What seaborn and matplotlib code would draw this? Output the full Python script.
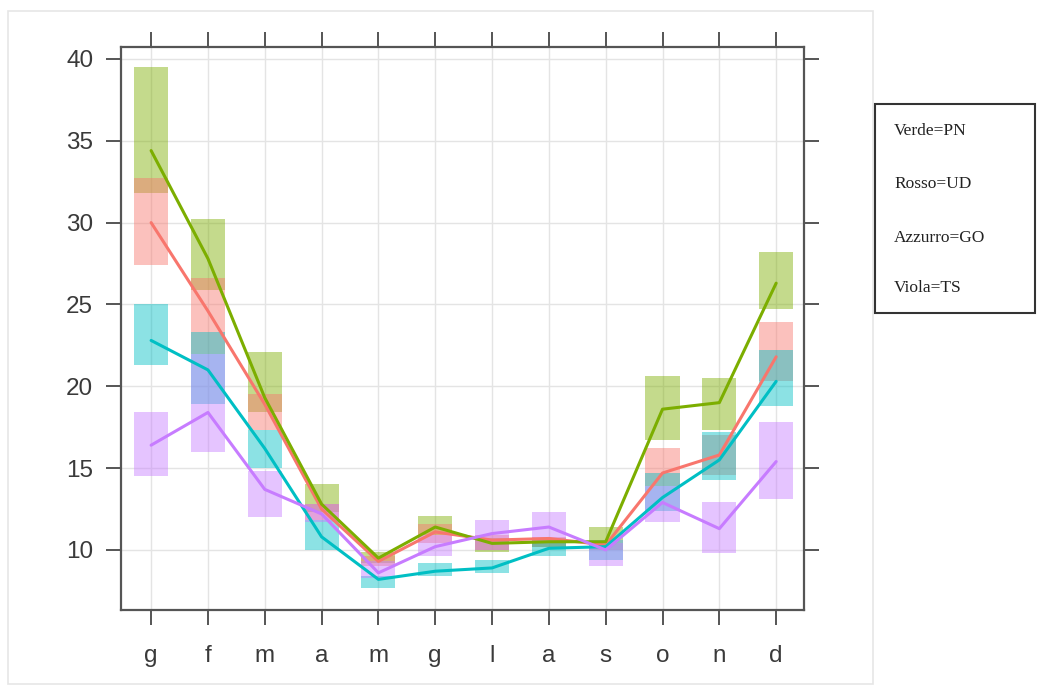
import numpy as np
import pandas as pd
import seaborn as sns
import matplotlib.pyplot as plt
from matplotlib.patches import Rectangle

MONTHS = ["g", "f", "m", "a", "m", "g", "l", "a", "s", "o", "n", "d"]

# monthly means per province
pn_mean = [34.4, 27.8, 19.3, 12.8, 9.5, 11.4, 10.4, 10.5, 10.5, 18.6, 19.0, 26.3]
ud_mean = [30.0, 24.6, 18.9, 12.5, 9.3, 11.1, 10.6, 10.7, 10.3, 14.7, 15.8, 21.8]
go_mean = [22.8, 21.0, 16.2, 10.8, 8.2, 8.7, 8.9, 10.1, 10.2, 13.2, 15.5, 20.3]
ts_mean = [16.4, 18.4, 13.7, 12.2, 8.6, 10.2, 11.0, 11.4, 10.0, 12.9, 11.3, 15.4]

# interval boxes (low, high)
pn_lo = [31.8, 25.9, 18.4, 12.3, 9.2, 10.9, 9.9, 10.2, 10.6, 16.7, 17.3, 24.7]
pn_hi = [39.5, 30.2, 22.1, 14.0, 9.9, 12.1, 10.7, 10.7, 11.4, 20.6, 20.5, 28.2]
ud_lo = [27.4, 22.0, 17.3, 11.8, 9.0, 10.4, 10.0, 10.2, 10.0, 13.9, 14.6, 20.3]
ud_hi = [32.7, 26.6, 19.5, 12.8, 9.6, 11.6, 10.9, 10.8, 10.6, 16.2, 17.0, 23.9]
go_lo = [21.3, 18.9, 15.0, 10.0, 7.7, 8.4, 8.6, 9.6, 9.4, 12.4, 14.3, 18.8]
go_hi = [25.0, 23.3, 17.3, 11.8, 8.4, 9.2, 9.4, 10.5, 10.6, 14.7, 17.2, 22.2]
ts_lo = [14.5, 16.0, 12.0, 11.7, 8.3, 9.6, 10.0, 10.4, 9.0, 11.7, 9.8, 13.1]
ts_hi = [18.4, 22.0, 14.8, 12.8, 9.3, 10.9, 11.8, 12.3, 10.4, 13.9, 12.9, 17.8]

COLORS = {"UD": "#F8766D", "PN": "#7CAE00", "GO": "#00BFC4", "TS": "#C77CFF"}

rows = []
for prov, mean in [("UD", ud_mean), ("PN", pn_mean), ("GO", go_mean), ("TS", ts_mean)]:
    for i, v in enumerate(mean):
        rows.append({"x": i, "val": v, "prov": prov})
df = pd.DataFrame(rows)

sns.set_style("white")
plt.rcParams["font.family"] = ["Liberation Sans", "DejaVu Sans"]

fig = plt.figure(figsize=(10.39, 6.88), dpi=100)
fig.patches.append(Rectangle((8 / 1039, 1 - 684 / 688), 865 / 1039, 673 / 688,
                             transform=fig.transFigure, fill=False,
                             edgecolor="#e6e6e6", linewidth=1.2))
ax = fig.add_axes([121 / 1039, 1 - 610 / 688, 683 / 1039, 563 / 688])

x = np.arange(len(MONTHS))
for prov, lo, hi in [("PN", pn_lo, pn_hi), ("UD", ud_lo, ud_hi),
                     ("GO", go_lo, go_hi), ("TS", ts_lo, ts_hi)]:
    lo = np.array(lo); hi = np.array(hi)
    ax.bar(x, hi - lo, bottom=lo, width=0.6, color=COLORS[prov],
           alpha=0.45, linewidth=0, zorder=2)

sns.lineplot(data=df, x="x", y="val", hue="prov", palette=COLORS,
             hue_order=["UD", "PN", "GO", "TS"], linewidth=2.2,
             legend=False, ax=ax, zorder=3)

ax.set_xlim(-0.53, 11.49)
ax.set_ylim(6.33, 40.73)
ax.set_xticks(x)
ax.set_xticklabels(MONTHS)
ax.set_yticks([10, 15, 20, 25, 30, 35, 40])
ax.set_xlabel("")
ax.set_ylabel("")
ax.grid(True, color="#e4e4e4", linewidth=1.0, zorder=0)
ax.set_axisbelow(True)
for s in ax.spines.values():
    s.set_color("#555555")
    s.set_linewidth(1.6)
ax.tick_params(axis="both", which="both", direction="out", length=11, width=1.4,
               color="#555555", labelsize=17.5, labelcolor="#3a3a3a",
               top=True, right=True, bottom=True, left=True)
ax.tick_params(axis="x", pad=14)
ax.tick_params(axis="y", pad=9)

# legend box
fig.patches.append(Rectangle((875 / 1039, 1 - 313 / 688), 160 / 1039, 209 / 688,
                             transform=fig.transFigure, fill=False,
                             edgecolor="#333333", linewidth=1.5))
for label, ypx in [("Verde=PN", 131), ("Rosso=UD", 184), ("Azzurro=GO", 238), ("Viola=TS", 288)]:
    fig.text(894 / 1039, 1 - ypx / 688, label, family=["Liberation Serif"],
             fontsize=12.5, color="#222222", va="center", ha="left")

fig.savefig("out.png", dpi=100)
